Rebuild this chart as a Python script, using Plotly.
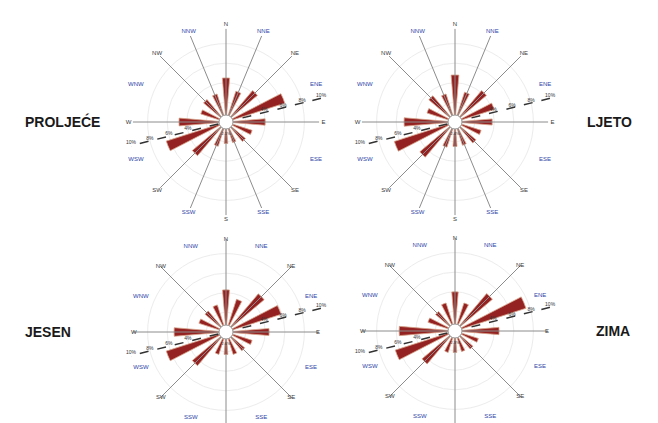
import plotly.graph_objects as go

# wind directions (compass bearing, clockwise from north)
directions = ["N", "NNE", "NE", "ENE", "E", "ESE", "SE", "SSE",
              "S", "SSW", "SW", "WSW", "W", "WNW", "NW", "NNW"]
bearings = [0, 22.5, 45, 67.5, 90, 112.5, 135, 157.5,
            180, 202.5, 225, 247.5, 270, 292.5, 315, 337.5]

seasons = ["PROLJEĆE", "LJETO", "JESEN", "ZIMA"]

# frequency of wind per direction (%)
proljece = [4.5, 3.3, 4.2, 6.3, 4.0, 2.8, 2.6, 2.2, 2.2, 2.6, 4.5, 6.4, 4.8, 2.7, 3.0, 3.0]
ljeto = [4.8, 3.2, 4.2, 4.2, 3.8, 2.8, 2.8, 2.5, 2.5, 2.7, 4.7, 6.5, 5.2, 3.0, 3.5, 3.0]
jesen = [4.3, 3.5, 5.1, 5.9, 4.4, 2.8, 2.5, 2.4, 2.3, 2.4, 4.5, 6.4, 5.3, 2.9, 2.8, 2.9]
zima = [4.0, 3.0, 5.0, 7.6, 4.5, 2.5, 2.4, 2.2, 2.2, 2.3, 4.4, 6.4, 5.7, 2.9, 2.6, 3.0]

calms = ["2.1%", "2.4%", "2.6%", "2.3%"]

# spokes drawn from the centre towards the direction labels
spokes_full = ["N", "NNE", "NE", "E", "SE", "SSE", "S", "SSW", "SW", "W", "NW", "NNW"]
spokes_main = ["N", "NE", "E", "SE", "S", "SW", "W", "NW"]

# scale labels along the dashed line
scale_vals = [4, 6, 8, 10]
scale_text = ["4%", "6%", "8%", "10%"]
scale_bearing = 76

W, H = 658, 423
R = 98
centres = [(218, 114), (447, 114), (218, 324), (447, 323)]

principal = {"N", "NE", "E", "SE", "S", "SW", "W", "NW"}

fig = go.Figure()

series = [proljece, ljeto, jesen, zima]
spokes = [spokes_full, spokes_full, spokes_main, spokes_main]

for i, (vals, sp) in enumerate(zip(series, spokes)):
    pid = "polar" if i == 0 else f"polar{i + 1}"
    sub = pid
    bottom = i >= 2

    # spoke lines
    r_sp, t_sp = [], []
    for d in sp:
        r_sp += [0, 9.5, None]
        t_sp += [bearings[directions.index(d)]] * 2 + [None]
    fig.add_trace(go.Scatterpolar(
        r=r_sp, theta=t_sp, mode="lines", subplot=sub,
        line=dict(color="#8c8c8c", width=1), hoverinfo="skip", showlegend=False,
    ))

    # wind bars
    fig.add_trace(go.Barpolar(
        r=vals, theta=bearings, width=[9.5] * 16, subplot=sub,
        marker=dict(color="#952222", line=dict(color="#d7a58c", width=0.8)),
        showlegend=False, name=seasons[i],
    ))

    # dashed scale line through the centre
    fig.add_trace(go.Scatterpolar(
        r=[10, 0.8, None, 0.8, 10],
        theta=[scale_bearing, scale_bearing, None, scale_bearing + 180, scale_bearing + 180],
        mode="lines", subplot=sub,
        line=dict(color="#333333", width=1.5, dash="dash"),
        hoverinfo="skip", showlegend=False,
    ))
    fig.add_trace(go.Scatterpolar(
        r=scale_vals + scale_vals,
        theta=[scale_bearing] * len(scale_vals) + [scale_bearing + 180] * len(scale_vals),
        text=scale_text + scale_text, mode="text", textposition="top center",
        textfont=dict(size=5, color="#333333", family="Arial"), subplot=sub,
        cliponaxis=False, hoverinfo="skip", showlegend=False,
    ))

    # calm circle
    fig.add_trace(go.Scatterpolar(
        r=[0], theta=[0], mode="markers+text", text=[calms[i]],
        textposition="bottom center",
        textfont=dict(size=4, color="#333333", family="Arial"),
        marker=dict(size=14, color="white", line=dict(color="#999999", width=1)),
        subplot=sub, hoverinfo="skip", showlegend=False,
    ))

    # direction labels (the bottom roses lose their S label at the page edge)
    lab_dirs = [d for d in directions if not (bottom and d == "S")]
    lab_theta = [bearings[directions.index(d)] for d in lab_dirs]
    lab_cols = ["#3a3a3a" if d in principal else "#2f45a8" for d in lab_dirs]
    fig.add_trace(go.Scatterpolar(
        r=[9.4 if bottom else 9.95] * len(lab_dirs), theta=lab_theta, text=lab_dirs,
        mode="text",
        textfont=dict(size=6, color=lab_cols, family="Arial"),
        subplot=sub, cliponaxis=False, hoverinfo="skip", showlegend=False,
    ))

    cx, cy = centres[i]
    fig.update_layout(**{pid: dict(
        domain=dict(x=[(cx - R) / W, (cx + R) / W],
                    y=[1 - (cy + R) / H, 1 - (cy - R) / H]),
        bgcolor="white",
        radialaxis=dict(range=[0, 10], tickvals=[2, 4, 6, 8, 10], showticklabels=False,
                        showline=False, ticks="", gridcolor="#ececec", gridwidth=1),
        angularaxis=dict(rotation=90, direction="clockwise", showticklabels=False,
                         showgrid=False, showline=False, ticks=""),
    )})

# season titles
title_pos = [(54, 114), (601, 114), (40, 324), (605, 323)]
for name, (x, y) in zip(seasons, title_pos):
    fig.add_annotation(
        text=f"<b>{name}</b>", x=x / W, y=1 - y / H, xref="paper", yref="paper",
        showarrow=False, xanchor="center", yanchor="middle",
        font=dict(size=14, color="#1a1a1a", family="Arial"),
    )

fig.update_layout(
    width=W, height=H, margin=dict(l=0, r=0, t=0, b=0),
    paper_bgcolor="white", plot_bgcolor="white", showlegend=False,
)

fig.write_html("out.html")
